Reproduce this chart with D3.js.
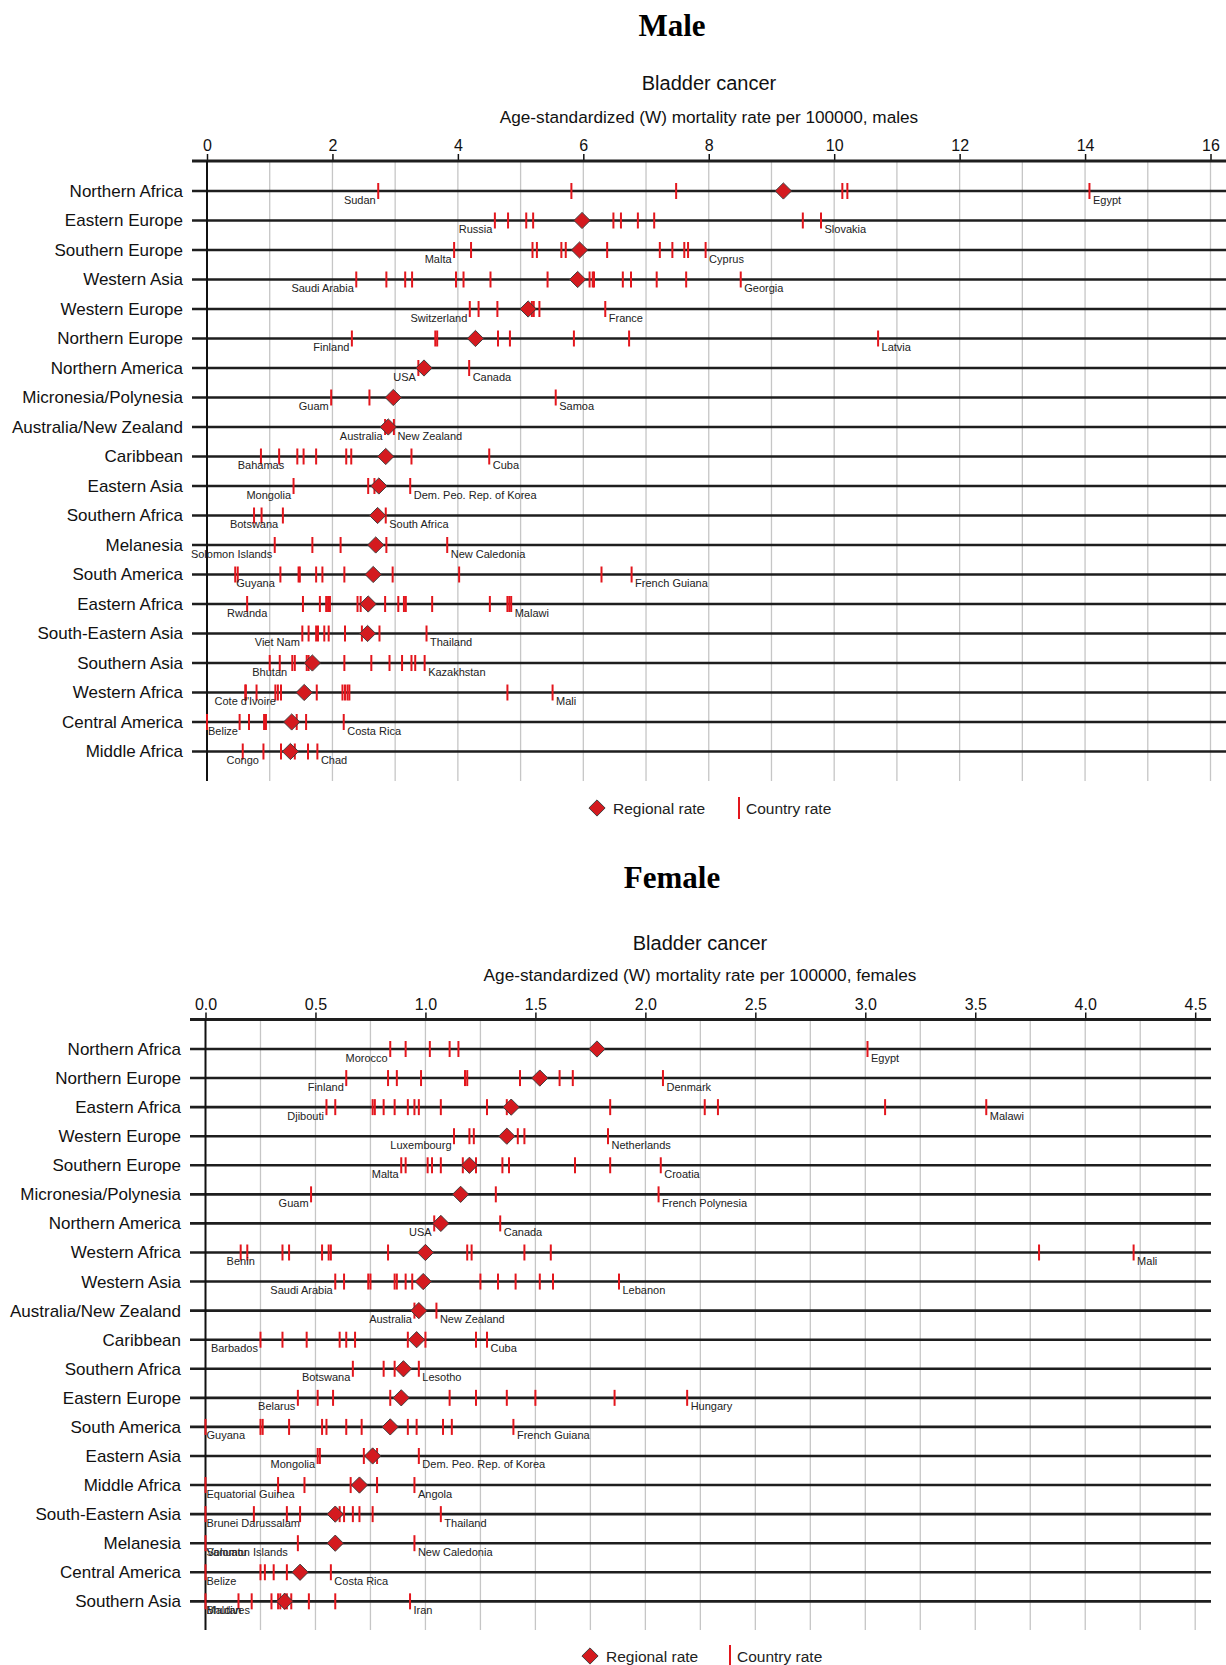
<!DOCTYPE html>
<html><head><meta charset="utf-8">
<script src="https://cdn.jsdelivr.net/npm/d3@7"></script>
<style>
body{margin:0;background:#fff}
svg{display:block}
text{font-family:"Liberation Sans",Arial,Helvetica,sans-serif}
</style>
</head><body>
<svg id="chart" width="1226" height="1665"></svg>
<script>
// ---------------- MALE DATA ----------------
const maleRegions = ["Northern Africa","Eastern Europe","Southern Europe","Western Asia","Western Europe","Northern Europe","Northern America","Micronesia/Polynesia","Australia/New Zealand","Caribbean","Eastern Asia","Southern Africa","Melanesia","South America","Eastern Africa","South-Eastern Asia","Southern Asia","Western Africa","Central America","Middle Africa"];
const maleRegional = [9.19,5.98,5.94,5.91,5.12,4.28,3.46,2.97,2.89,2.85,2.74,2.72,2.69,2.65,2.57,2.56,1.68,1.55,1.35,1.33];
const maleCountries = [
  [2.73,5.81,7.48,10.13,10.21,14.07],
  [4.59,4.80,5.09,5.20,6.48,6.60,6.87,7.13,9.50,9.79],
  [3.94,4.21,5.19,5.26,5.65,5.72,6.38,7.22,7.42,7.61,7.67,7.95],
  [2.38,2.86,3.16,3.27,3.97,4.09,4.52,5.43,6.10,6.15,6.17,6.63,6.76,7.17,7.64,8.51],
  [4.19,4.33,4.63,5.18,5.21,5.30,6.35],
  [2.31,3.64,3.67,4.64,4.83,5.85,6.73,10.70],
  [3.37,4.18],
  [1.98,2.59,5.56],
  [2.84,2.98],
  [0.86,1.15,1.44,1.54,1.74,2.22,2.30,3.26,4.50],
  [1.38,2.57,2.67,3.24],
  [0.75,0.87,1.21,2.85],
  [1.08,1.68,2.13,2.86,3.83],
  [0.45,0.49,1.17,1.46,1.48,1.74,1.84,2.19,2.96,4.02,6.29,6.77],
  [0.64,1.53,1.80,1.90,1.93,1.96,2.40,2.45,2.84,3.05,3.14,3.17,3.59,4.51,4.79,4.82,4.85],
  [1.52,1.62,1.74,1.77,1.87,1.94,2.20,2.47,2.75,3.50],
  [1.00,1.16,1.36,1.40,1.59,1.62,2.19,2.62,2.91,3.11,3.26,3.32,3.47],
  [0.61,0.62,0.79,1.09,1.13,1.18,1.75,2.16,2.20,2.24,2.27,4.79,5.51],
  [0,0.52,0.67,0.91,0.94,1.43,1.58,2.18],
  [0.57,0.90,1.18,1.40,1.61,1.76]
];
const maleMinLabels = ["Sudan","Russia","Malta","Saudi Arabia","Switzerland","Finland","USA","Guam","Australia","Bahamas","Mongolia","Botswana","Solomon Islands","Guyana","Rwanda","Viet Nam","Bhutan","Cote d'Ivoire","Belize","Congo"];
const maleMinAnchor = ["end","end","end","end","end","end","end","end","end","middle","end","middle","end","start","middle","end","middle","middle","start","middle"];
const maleMaxLabels = ["Egypt","Slovakia","Cyprus","Georgia","France","Latvia","Canada","Samoa","New Zealand","Cuba","Dem. Peo. Rep. of Korea","South Africa","New Caledonia","French Guiana","Malawi","Thailand","Kazakhstan","Mali","Costa Rica","Chad"];
const maleTicks = [0,2,4,6,8,10,12,14,16];

// ---------------- FEMALE DATA ----------------
const femaleRegions = ["Northern Africa","Northern Europe","Eastern Africa","Western Europe","Southern Europe","Micronesia/Polynesia","Northern America","Western Africa","Western Asia","Australia/New Zealand","Caribbean","Southern Africa","Eastern Europe","South America","Eastern Asia","Middle Africa","South-Eastern Asia","Melanesia","Central America","Southern Asia"];
const femaleRegional = [1.78,1.52,1.39,1.37,1.20,1.16,1.07,1.00,0.99,0.97,0.96,0.90,0.89,0.84,0.76,0.70,0.59,0.59,0.43,0.36];
const femaleCountries = [
  [0.84,0.91,1.02,1.11,1.15,3.01],
  [0.64,0.83,0.87,0.98,1.18,1.19,1.43,1.61,1.67,2.08],
  [0.55,0.59,0.76,0.77,0.81,0.86,0.92,0.95,0.97,1.07,1.28,1.37,1.84,2.27,2.33,3.09,3.55],
  [1.13,1.20,1.22,1.42,1.45,1.83],
  [0.89,0.91,1.01,1.03,1.07,1.17,1.23,1.35,1.38,1.68,1.84,2.07],
  [0.48,1.32,2.06],
  [1.04,1.34],
  [0.16,0.19,0.35,0.38,0.53,0.56,0.57,0.83,1.19,1.21,1.45,1.57,3.79,4.22],
  [0.59,0.63,0.74,0.75,0.86,0.87,0.91,0.94,1.25,1.33,1.41,1.52,1.58,1.88],
  [0.95,1.05],
  [0.25,0.35,0.46,0.61,0.64,0.68,0.92,1.00,1.23,1.28],
  [0.67,0.81,0.86,0.97],
  [0.42,0.51,0.58,0.84,1.11,1.23,1.37,1.50,1.86,2.19],
  [0,0.25,0.26,0.38,0.53,0.55,0.64,0.71,0.92,0.96,1.08,1.12,1.40],
  [0.51,0.52,0.72,0.78,0.97],
  [0,0.33,0.45,0.66,0.78,0.95],
  [0,0.22,0.37,0.43,0.61,0.63,0.67,0.70,0.76,1.07],
  [0,0.42,0.95],
  [0,0.25,0.27,0.31,0.37,0.57],
  [0,0.15,0.21,0.30,0.33,0.34,0.36,0.37,0.39,0.47,0.59,0.93]
];
const femaleMinLabels = ["Morocco","Finland","Djibouti","Luxembourg","Malta","Guam","USA","Benin","Saudi Arabia","Australia","Barbados","Botswana","Belarus","Guyana","Mongolia","Equatorial Guinea","Brunei Darussalam",["Solomon Islands","Vanuatu"],"Belize",["Maldives","Bhutan"]];
const femaleMinAnchor = ["end","end","end","end","end","end","end","middle","end","end","end","end","end","start","end","start","start","start","start","start"];
const femaleMaxLabels = ["Egypt","Denmark","Malawi","Netherlands","Croatia","French Polynesia","Canada","Mali","Lebanon","New Zealand","Cuba","Lesotho","Hungary","French Guiana","Dem. Peo. Rep. of Korea","Angola","Thailand","New Caledonia","Costa Rica","Iran"];
const femaleTicks = [0,0.5,1,1.5,2,2.5,3,3.5,4,4.5];

// ---------------- DRAW ----------------
const svg = d3.select("#chart");
const RED = "#e3161d", DRED = "#d41a1f";

function drawPanel(p, regions, regional, countries, minL, minA, maxL, ticks, gridStep, fmt, id) {
  const g = svg.append("g");
  const x = d3.scaleLinear().domain([0, ticks[ticks.length-1]]).range([p.x0, p.x1]);
  const y = d3.scalePoint().domain(regions).range([p.rowY0, p.rowY0 + (regions.length-1)*p.rowStep]);

  // titles
  g.append("text").attr("x", p.titleX).attr("y", p.titleY).attr("text-anchor","middle")
    .style("font-family","'Liberation Serif','Times New Roman',serif").style("font-weight","bold")
    .style("font-size","31px").text(p.title);
  g.append("text").attr("x", p.textX).attr("y", p.mainY).attr("text-anchor","middle")
    .style("font-size","20px").attr("fill","#111").text("Bladder cancer");
  g.append("text").attr("x", p.textX).attr("y", p.subY).attr("text-anchor","middle")
    .style("font-size","17.2px").attr("fill","#111").text(p.sub);

  // grid
  const gridVals = d3.range(gridStep, ticks[ticks.length-1] + gridStep/2, gridStep);
  g.append("g").selectAll("line").data(gridVals).join("line")
    .attr("x1", d => x(d)).attr("x2", d => x(d))
    .attr("y1", p.axisY).attr("y2", p.bottom)
    .attr("stroke","#c6c6c6").attr("stroke-width",1.3);

  // row lines
  g.append("g").selectAll("line").data(regions).join("line")
    .attr("x1", p.lineLeft).attr("x2", p.lineRight)
    .attr("y1", d => y(d)).attr("y2", d => y(d))
    .attr("stroke","#1e1e1e").attr("stroke-width",2.6);

  // top axis
  const ax = g.append("g").attr("transform", `translate(0,${p.axisY})`)
    .call(d3.axisTop(x).tickValues(ticks).tickFormat(fmt).tickSize(7).tickPadding(3));
  ax.select(".domain").remove();
  ax.selectAll(".tick line").attr("stroke","#111").attr("stroke-width",1.5);
  ax.selectAll(".tick text").style("font-size","16px").attr("fill","#111");
  g.append("line").attr("x1", p.lineLeft).attr("x2", p.lineRight)
    .attr("y1", p.axisY).attr("y2", p.axisY).attr("stroke","#1e1e1e").attr("stroke-width",2.8);
  // y-axis vertical
  g.append("line").attr("x1", x(0)).attr("x2", x(0)).attr("y1", p.axisY).attr("y2", p.bottom)
    .attr("stroke","#111").attr("stroke-width",2);

  // row labels
  const ay = g.append("g").attr("transform", `translate(${p.lineLeft},0)`)
    .call(d3.axisLeft(y).tickSize(0).tickPadding(9));
  ay.select(".domain").remove();
  ay.selectAll(".tick text").style("font-size","17px").attr("fill","#111");

  // country marks
  const marks = [];
  regions.forEach((r,i) => countries[i].forEach(v => marks.push({r, v})));
  g.append("g").selectAll("line").data(marks).join("line")
    .attr("x1", d => x(d.v)).attr("x2", d => x(d.v))
    .attr("y1", d => y(d.r) - 8).attr("y2", d => y(d.r) + 8)
    .attr("stroke", RED).attr("stroke-width", 2);

  // regional diamonds
  const sym = d3.symbol().type(d3.symbolSquare).size(132);
  g.append("g").selectAll("path").data(regions).join("path")
    .attr("d", sym)
    .attr("transform", (d,i) => `translate(${x(regional[i])},${y(d)}) rotate(45)`)
    .attr("fill", DRED).attr("stroke","#3a3a3a").attr("stroke-width",0.9);

  // country labels
  svg.append("clipPath").attr("id", id).append("rect")
    .attr("x", p.lineLeft - 1).attr("y", 0).attr("width", 1226).attr("height", 1665);
  const lg = g.append("g").attr("clip-path", `url(#${id})`);
  regions.forEach((r,i) => {
    const mn = d3.min(countries[i]), mx = d3.max(countries[i]);
    const mins = Array.isArray(minL[i]) ? minL[i] : [minL[i]];
    const a = minA[i];
    const dx = a === "end" ? -2.5 : (a === "start" ? 1 : 0);
    mins.forEach(t => {
      lg.append("text")
        .attr("x", x(mn) + dx)
        .attr("y", y(r) + 12.5)
        .attr("text-anchor", a)
        .style("font-size","11px").attr("fill","#222").text(t);
    });
    lg.append("text").attr("x", x(mx) + 3.5).attr("y", y(r) + 12.5)
      .style("font-size","11px").attr("fill","#222").text(maxL[i]);
  });

  // legend
  const leg = g.append("g");
  leg.append("path").attr("d", sym).attr("transform", `translate(${p.legDX},${p.legY}) rotate(45)`)
    .attr("fill", DRED).attr("stroke","#3a3a3a").attr("stroke-width",0.9);
  leg.append("text").attr("x", p.legDX + 16).attr("y", p.legY + 5.5)
    .style("font-size","15.5px").attr("fill","#222").text("Regional rate");
  leg.append("line").attr("x1", p.legLX).attr("x2", p.legLX)
    .attr("y1", p.legY - 11).attr("y2", p.legY + 11).attr("stroke", RED).attr("stroke-width",2);
  leg.append("text").attr("x", p.legLX + 7).attr("y", p.legY + 5.5)
    .style("font-size","15.5px").attr("fill","#222").text("Country rate");
}

drawPanel({title:"Male", titleX:672, titleY:36, textX:709, mainY:90, subY:123,
  sub:"Age-standardized (W) mortality rate per 100000, males",
  axisY:161, x0:207, x1:1210.5, rowY0:191, rowStep:29.5, bottom:781,
  lineLeft:192, lineRight:1226, legY:808, legDX:597, legLX:739},
  maleRegions, maleRegional, maleCountries, maleMinLabels, maleMinAnchor, maleMaxLabels, maleTicks, 1, d3.format("d"), "clipM");

drawPanel({title:"Female", titleX:672, titleY:888, textX:700, mainY:950, subY:981,
  sub:"Age-standardized (W) mortality rate per 100000, females",
  axisY:1019.5, x0:205.5, x1:1195.2, rowY0:1049, rowStep:29.07, bottom:1630,
  lineLeft:190, lineRight:1211, legY:1656, legDX:590, legLX:730},
  femaleRegions, femaleRegional, femaleCountries, femaleMinLabels, femaleMinAnchor, femaleMaxLabels, femaleTicks, 0.25, d3.format(".1f"), "clipF");
</script>
</body></html>
